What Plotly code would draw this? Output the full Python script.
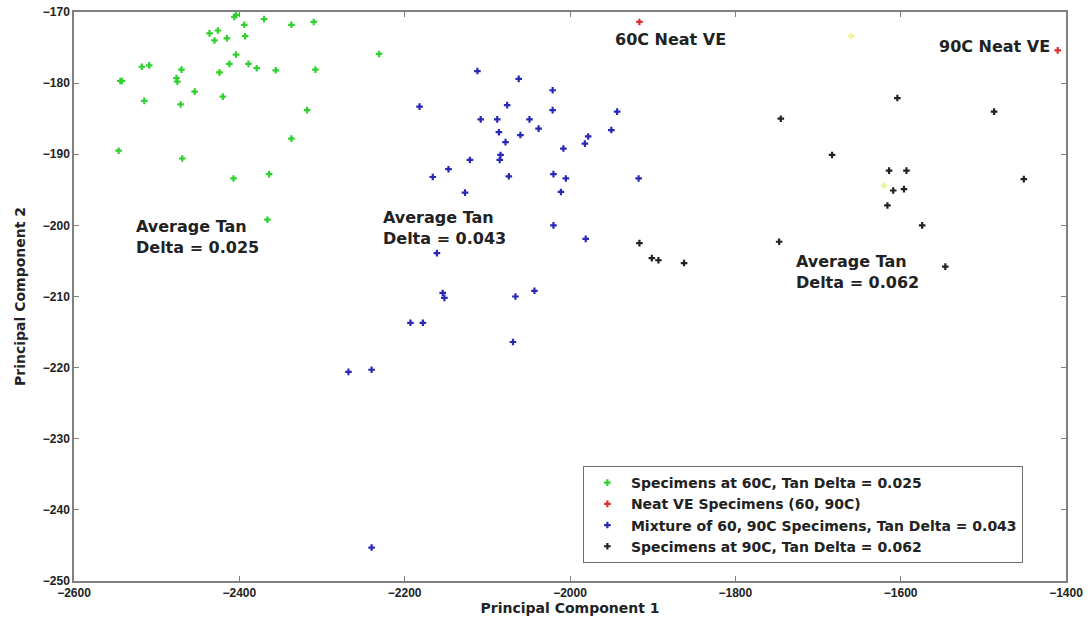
import plotly.graph_objects as go

# Principal component scores for each specimen group
green_pc1 = [-2404, -2406, -2394, -2370, -2337, -2310, -2436, -2426, -2430, -2415,
             -2393, -2404, -2231, -2518, -2509, -2470, -2476, -2475, -2544, -2542,
             -2424, -2412, -2389, -2379, -2356, -2308, -2454, -2420, -2515, -2471,
             -2318, -2337, -2546, -2469, -2364, -2407, -2366]
green_pc2 = [-170.4, -170.7, -171.8, -171.0, -171.8, -171.4, -173.0, -172.6, -174.0, -173.7,
             -173.4, -176.0, -175.9, -177.7, -177.5, -178.1, -179.3, -179.8, -179.7, -179.7,
             -178.5, -177.3, -177.3, -177.9, -178.2, -178.1, -181.2, -181.9, -182.5, -183.0,
             -183.8, -187.8, -189.5, -190.6, -192.8, -193.4, -199.2]

red_pc1 = [-1916, -1410]
red_pc2 = [-171.4, -175.4]

blue_pc1 = [-2112, -2062, -2021, -2182, -2076, -2021, -1943, -2108, -2088, -2049,
            -2038, -1950, -2086, -2060, -2078, -1978, -1982, -2008, -2084, -2085,
            -2121, -2147, -2166, -2074, -2020, -2005, -1917, -2127, -2011, -2020,
            -1981, -2161, -2154, -2152, -2066, -2043, -2193, -2178, -2069, -2268,
            -2240, -2240]
blue_pc2 = [-178.3, -179.4, -181.0, -183.3, -183.1, -183.8, -184.0, -185.1, -185.1, -185.1,
            -186.4, -186.6, -186.9, -187.3, -188.3, -187.5, -188.5, -189.2, -190.1, -190.8,
            -190.8, -192.1, -193.2, -193.1, -192.8, -193.4, -193.4, -195.4, -195.3, -200.0,
            -201.9, -203.9, -209.5, -210.2, -210.0, -209.2, -213.7, -213.7, -216.4, -220.6,
            -220.3, -245.3]

black_pc1 = [-1916, -1901, -1893, -1862, -1747, -1745, -1683, -1604, -1487, -1614,
             -1593, -1609, -1596, -1451, -1616, -1574, -1546]
black_pc2 = [-202.5, -204.6, -204.9, -205.3, -202.3, -185.0, -190.1, -182.1, -184.0, -192.3,
             -192.3, -195.1, -194.9, -193.5, -197.2, -200.0, -205.8]

yellow_pc1 = [-2424, -1660, -1620]
yellow_pc2 = [-178.5, -173.4, -194.4]

legend_names = [
    "Specimens at 60C, Tan Delta = 0.025",
    "Neat VE Specimens (60, 90C)",
    "Mixture of 60, 90C Specimens, Tan Delta = 0.043",
    "Specimens at 90C, Tan Delta = 0.062",
]

x_ticks = [-2600, -2400, -2200, -2000, -1800, -1600, -1400]
y_ticks = [-250, -240, -230, -220, -210, -200, -190, -180, -170]

TICK_FONT = "Liberation Sans"
LABEL_FONT = "DejaVu Sans"
TEXT = "#222222"

fig = go.Figure()

def add_group(x, y, color, name, show=True):
    fig.add_trace(go.Scatter(
        x=x, y=y, mode="markers", name=name, showlegend=show,
        marker=dict(symbol="cross", size=5.5, color=color, line=dict(width=0)),
        cliponaxis=False,
    ))

add_group(yellow_pc1, yellow_pc2, "rgba(235,240,120,0.8)", "", show=False)
add_group(green_pc1, green_pc2, "#2ed12e", legend_names[0])
add_group(red_pc1, red_pc2, "#d83030", legend_names[1])
add_group(blue_pc1, blue_pc2, "#2828b4", legend_names[2])
add_group(black_pc1, black_pc2, "#222222", legend_names[3])

annotations = [
    dict(x=-1948, y=-173.9, text="60C Neat VE"),
    dict(x=-1556, y=-174.8, text="90C Neat VE"),
    dict(x=-2528, y=-201.6, text="Average Tan<br>Delta = 0.025"),
    dict(x=-2229, y=-200.3, text="Average Tan<br>Delta = 0.043"),
    dict(x=-1729, y=-206.5, text="Average Tan<br>Delta = 0.062"),
]
for a in annotations:
    a.update(xanchor="left", yanchor="middle", showarrow=False, align="left",
             font=dict(family=LABEL_FONT, size=16, color=TEXT, weight="bold"))

axis_common = dict(
    showgrid=False, zeroline=False, showline=True, linecolor="#808080", linewidth=1.5,
    mirror="ticks", ticks="inside", ticklen=5, tickcolor="#808080", automargin=False,
    tickfont=dict(family=TICK_FONT, size=12, color=TEXT, weight="bold"),
)

fig.update_layout(
    width=1088, height=628,
    margin=dict(l=74, r=22, t=12, b=47),
    plot_bgcolor="white", paper_bgcolor="white",
    annotations=annotations,
    xaxis=dict(range=[-2600, -1400], tickvals=x_ticks,
               title=dict(text="Principal Component 1", standoff=4,
                          font=dict(family=LABEL_FONT, size=14, color=TEXT, weight="bold")),
               **axis_common),
    yaxis=dict(range=[-250, -170], tickvals=y_ticks,
               title=dict(text="Principal Component 2", standoff=14,
                          font=dict(family=LABEL_FONT, size=14, color=TEXT, weight="bold")),
               **axis_common),
    legend=dict(x=0.513, y=0.202, xanchor="left", yanchor="top",
                bgcolor="white", bordercolor="#707070", borderwidth=1,
                font=dict(family=LABEL_FONT, size=14, color=TEXT, weight="bold"),
                itemsizing="trace", itemwidth=37, tracegroupgap=0),
)

fig.write_html("out.html")
